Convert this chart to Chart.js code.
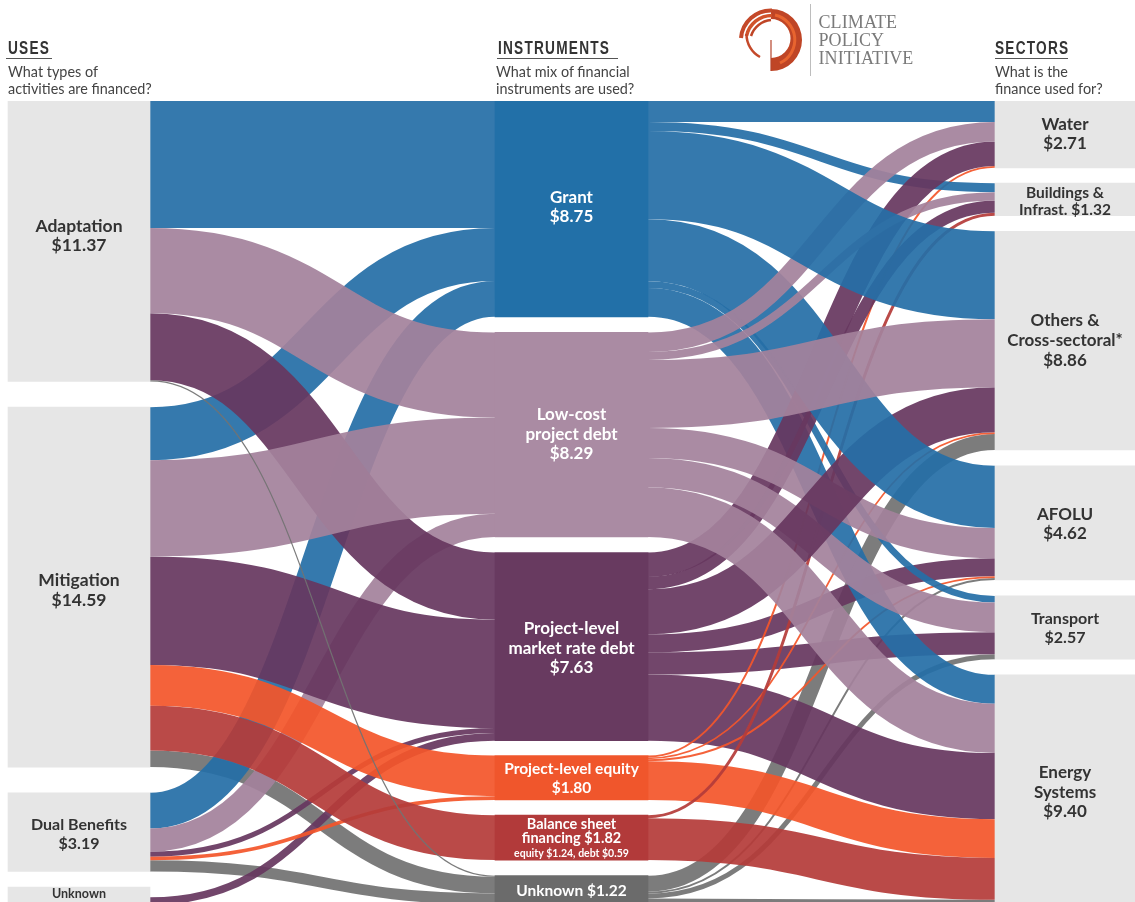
<!DOCTYPE html>
<html><head><meta charset="utf-8">
<script src="https://cdn.jsdelivr.net/npm/chart.js@4/dist/chart.umd.min.js"></script>
<style>
html,body{margin:0;padding:0;background:#fff;width:1135px;height:902px;overflow:hidden}
#wrap{position:relative;width:1135px;height:902px;overflow:hidden}
canvas{position:absolute;left:0;top:0}
.h{position:absolute;font:bold 18px "Liberation Sans",sans-serif;letter-spacing:1.6px;color:#333;line-height:20px;white-space:nowrap;transform:scaleX(.76);transform-origin:left center}
.u{position:absolute;height:1px;background:#555;top:58px}
.s{position:absolute;font:400 14.4px/16.5px Lato,"Open Sans",sans-serif;color:#444;white-space:nowrap;top:64px}
.l{position:absolute;left:818.5px;font:18px/18px "Liberation Serif",serif;color:#7a7a7a;white-space:nowrap;letter-spacing:.1px}
svg{position:absolute;left:0;top:0}
</style></head><body>
<div id="wrap">
<canvas id="c" width="1135" height="902"></canvas>
<svg width="1135" height="100" viewBox="0 0 1135 100">
 <path d="M771 9A31 31 0 0 1 771 71L771 58A19.5 19.5 0 0 0 771 19Z" fill="#bf4526"/>
 <path d="M775 15A25.5 25.5 0 0 1 780 63" fill="none" stroke="#e8642f" stroke-width="3"/>
 <path d="M772 10.5A30 30 0 0 0 741 38" fill="none" stroke="#c4492a" stroke-width="4"/>
 <path d="M772 15.5A26 26 0 0 0 746.5 36" fill="none" stroke="#d1532b" stroke-width="3.5"/>
 <path d="M771 20A23 23 0 0 0 751 36" fill="none" stroke="#bf4526" stroke-width="2.5"/>
 <path d="M746.5 34A26 26 0 0 0 760 57" fill="none" stroke="#c4492a" stroke-width="2.5"/>
 <path d="M771 40V71" stroke="#b5432a" stroke-width="1.2"/>
 <path d="M810.5 4V76" stroke="#bdbdbd" stroke-width="1"/>
</svg>
<div class="l" style="top:13px">CLIMATE</div>
<div class="l" style="top:31px">POLICY</div>
<div class="l" style="top:49px">INITIATIVE</div>
<div class="h" style="left:8px;top:38px">USES</div><div class="u" style="left:6px;width:46px"></div>
<div class="h" style="left:498px;top:38px">INSTRUMENTS</div><div class="u" style="left:497px;width:121px"></div>
<div class="h" style="left:995px;top:38px">SECTORS</div><div class="u" style="left:995px;width:73px"></div>
<div class="s" style="left:8px">What types of<br>activities are financed?</div>
<div class="s" style="left:496px">What mix of financial<br>instruments are used?</div>
<div class="s" style="left:995px">What is the<br>finance used for?</div>
</div>
<script>
// ---------- data (US$) ----------
const uses = ['Adaptation', 'Mitigation', 'Dual Benefits', 'Unknown'];
const instruments = ['Grant', 'Low-cost project debt', 'Project-level market rate debt', 'Project-level equity', 'Balance sheet financing', 'Unknown'];
const sectors = ['Water', 'Buildings & Infrast.', 'Others & Cross-sectoral*', 'AFOLU', 'Transport', 'Energy Systems'];
const useValues = [11.37, 14.59, 3.19, 0.8];
const instrumentValues = [8.75, 8.29, 7.63, 1.80, 1.82, 1.22];
const sectorValues = [2.71, 1.32, 8.86, 4.62, 2.57, 9.40];
// flows: use -> [Grant, Low-cost, Market debt, Equity, Balance sheet, Unknown]
const adaptationFlows = [5.15, 3.45, 2.72, 0, 0, 0.05];
const mitigationFlows = [2.15, 3.90, 4.40, 1.65, 1.82, 0.67];
const dualFlows = [1.45, 0.94, 0.20, 0.15, 0, 0.45];
const unknownUseFlows = [0, 0, 0.31, 0, 0, 0.05];
// flows: instrument -> [Water, Buildings, Others, AFOLU, Transport, Energy]
const grantFlows = [0.85, 0.37, 3.57, 2.52, 0.27, 1.17];
const lowCostFlows = [0.79, 0.33, 2.75, 1.22, 1.20, 2.00];
const marketDebtFlows = [0.99, 0.50, 1.83, 0.73, 0.90, 2.68];
const equityFlows = [0.08, 0, 0.07, 0.08, 0, 1.57];
const balanceFlows = [0, 0.12, 0, 0, 0, 1.70];
const unknownInstFlows = [0, 0, 0.65, 0.08, 0.20, 0.29];
// ---------- layout & style ----------
const useGaps = [0, 1.04, 1.04, 0.63];
const instrumentGaps = [0, 0.63, 0.63, 0.60, 0.62, 0.63];
const sectorGaps = [0, 0.62, 0.63, 0.65, 0.65, 0.63];
const unknownUseLead = 0.42;
const colX = [[8, 150], [495, 648], [995, 1135]];
const ribbonRGB = ['38,111,167', '164,130,156', '103,56,96', '243,86,43', '181,60,58', '114,114,114'];
const ribbonAlpha = 0.93;
const nodeFill = ['#2270a8', '#aa8ba3', '#683a60', '#f0562c', '#b23a3a', '#6b6b6b'];
const grey = '#e6e6e6';
const leftOrder = [[1,5],[2,5],[3,5],[2,0],[1,0],[0,0],[2,1],[2,2],[3,2],[0,2],[1,2],[0,1],[1,1],[2,3],[1,3],[1,4],[0,5]];
const rightOrder = [[5,2],[5,3],[5,4],[5,5],[2,3],[2,4],[2,5],[3,0],[3,2],[3,3],[3,5],[4,1],[4,5],
  [0,0],[0,1],[0,4],[0,5],[2,0],[2,1],[1,3],[1,4],[2,2],[1,5],[0,3],[1,0],[1,1],[0,2],[1,2]];
const useMatrix = [adaptationFlows, mitigationFlows, dualFlows, unknownUseFlows];
const instMatrix = [grantFlows, lowCostFlows, marketDebtFlows, equityFlows, balanceFlows, unknownInstFlows];

function tops(vals, gaps) { let y = 0; return vals.map((v, i) => { y += gaps[i]; const t = y; y += v; return t; }); }
const useTop = tops(useValues, useGaps), instTop = tops(instrumentValues, instrumentGaps), secTop = tops(sectorValues, sectorGaps);

function buildLinks(matrix, srcTop, dstTop, leadFor) {
  const out = [];
  matrix.forEach((row, s) => {
    let sy = srcTop[s] + (leadFor ? leadFor(s) : 0);
    row.forEach((v, d) => {
      if (v > 0) { out.push({ s, d, v, y0: sy, y1: 0 }); }
      sy += v;
    });
  });
  dstTop.forEach((t, d) => {
    let y = t;
    out.filter(l => l.d === d).sort((a, b) => a.s - b.s).forEach(l => { l.y1 = y; y += l.v; });
  });
  return out;
}
const leftLinks = buildLinks(useMatrix, useTop, instTop, s => s === 3 ? unknownUseLead : 0);
const rightLinks = buildLinks(instMatrix, instTop, secTop);
const pick = (links, order) => order.map(([s, d]) => links.find(l => l.s === s && l.d === d)).filter(Boolean);
const leftDraw = pick(leftLinks, leftOrder).map(l => ({ ...l, rgb: ribbonRGB[l.d] }));
const rightDraw = pick(rightLinks, rightOrder).map(l => ({ ...l, rgb: ribbonRGB[l.s] }));

const labelFont = 'Lato, "Open Sans", sans-serif';
const labels = [
 {c:0,y:useTop[0],h:useValues[0],lines:['Adaptation','$11.37'],size:17.5,lh:19,dy:-5,col:'#333'},
 {c:0,y:useTop[1],h:useValues[1],lines:['Mitigation','$14.59'],size:17.5,lh:20,dy:3.5,col:'#333'},
 {c:0,y:useTop[2],h:useValues[2],lines:['Dual Benefits','$3.19'],size:16,lh:19,dy:2,col:'#333'},
 {c:0,y:useTop[3],h:useValues[3],lines:['Unknown'],size:12.5,lh:14,dy:-2.5,col:'#333'},
 {c:1,y:instTop[0],h:instrumentValues[0],lines:['Grant','$8.75'],size:17,lh:19,dy:-1.7,col:'#fff'},
 {c:1,y:instTop[1],h:instrumentValues[1],lines:['Low-cost','project debt','$8.29'],size:17,lh:19.5,dy:-0.2,col:'#fff'},
 {c:1,y:instTop[2],h:instrumentValues[2],lines:['Project-level','market rate debt','$7.63'],size:17,lh:19.5,dy:1.8,col:'#fff'},
 {c:1,y:instTop[3],h:instrumentValues[3],lines:['Project-level equity','$1.80'],size:15.5,lh:19,dy:0.8,col:'#fff'},
 {c:1,y:instTop[4],h:instrumentValues[4],lines:['Balance sheet','financing $1.82'],size:14.5,lh:14.5,dy:-6.5,col:'#fff'},
 {c:1,y:instTop[4],h:instrumentValues[4],lines:['equity $1.24, debt $0.59'],size:10.5,lh:12,dy:16,col:'#fff'},
 {c:1,y:instTop[5],h:instrumentValues[5],lines:['Unknown $1.22'],size:15.5,lh:18,dy:0.3,col:'#fff'},
 {c:2,y:secTop[0],h:sectorValues[0],lines:['Water','$2.71'],size:17,lh:19,dy:-0.2,col:'#333'},
 {c:2,y:secTop[1],h:sectorValues[1],lines:['Buildings &','Infrast. $1.32'],size:15.5,lh:17,dy:1.8,col:'#333'},
 {c:2,y:secTop[2],h:sectorValues[2],lines:['Others &','Cross-sectoral*','$8.86'],size:17,lh:20,dy:0.3,col:'#333'},
 {c:2,y:secTop[3],h:sectorValues[3],lines:['AFOLU','$4.62'],size:17,lh:19,dy:1.3,col:'#333'},
 {c:2,y:secTop[4],h:sectorValues[4],lines:['Transport','$2.57'],size:16,lh:19,dy:0.8,col:'#333'},
 {c:2,y:secTop[5],h:sectorValues[5],lines:['Energy','Systems','$9.40'],size:17,lh:19.5,dy:1.3,col:'#333'}
];

const ribbonPlugin = {
  id: 'ribbons',
  beforeDatasetsDraw(chart) {
    const { ctx, scales: { x, y }, chartArea: a } = chart;
    ctx.save();
    ctx.beginPath(); ctx.rect(a.left, a.top, a.right - a.left, a.bottom - a.top); ctx.clip();
    ctx.lineCap = 'butt';
    const draw = (l, xa, xb) => {
      const x0 = x.getPixelForValue(xa), x1 = x.getPixelForValue(xb), m = (x0 + x1) / 2;
      const c0 = y.getPixelForValue(l.y0 + l.v / 2), c1 = y.getPixelForValue(l.y1 + l.v / 2);
      ctx.beginPath(); ctx.moveTo(x0, c0);
      ctx.bezierCurveTo(m, c0, m, c1, x1, c1);
      ctx.lineWidth = y.getPixelForValue(l.v) - y.getPixelForValue(0);
      ctx.strokeStyle = 'rgba(' + l.rgb + ',' + ribbonAlpha + ')';
      ctx.stroke();
    };
    leftDraw.forEach(l => draw(l, colX[0][1], colX[1][0]));
    rightDraw.forEach(l => draw(l, colX[1][1], colX[2][0]));
    ctx.restore();
  },
  afterDatasetsDraw(chart) {
    const { ctx, scales: { x, y } } = chart;
    ctx.save();
    ctx.textAlign = 'center'; ctx.textBaseline = 'middle';
    labels.forEach(L => {
      const cx = x.getPixelForValue((colX[L.c][0] + colX[L.c][1]) / 2);
      const mid = y.getPixelForValue(L.y + L.h / 2) + L.dy;
      ctx.font = '700 ' + L.size + 'px ' + labelFont;
      ctx.fillStyle = L.col;
      L.lines.forEach((t, i) => ctx.fillText(t, cx, mid + (i - (L.lines.length - 1) / 2) * L.lh));
    });
    ctx.restore();
  }
};
const bar = (col, names, vals, t, fills) => ({
  label: names.join(', '),
  data: vals.map((v, i) => ({ x: (colX[col][0] + colX[col][1]) / 2, y: [t[i], t[i] + v] })),
  backgroundColor: fills, borderWidth: 0, grouped: false,
  barThickness: colX[col][1] - colX[col][0]
});
new Chart(document.getElementById('c'), {
  type: 'bar',
  data: { datasets: [
    bar(0, uses, useValues, useTop, grey),
    bar(1, instruments, instrumentValues, instTop, nodeFill),
    bar(2, sectors, sectorValues, secTop, grey)
  ] },
  options: {
    responsive: false, animation: false, devicePixelRatio: 1,
    layout: { padding: { top: 101, left: 0, right: 0, bottom: 0 } },
    plugins: { legend: { display: false }, tooltip: { enabled: false } },
    scales: {
      x: { type: 'linear', display: false, min: 0, max: 1135, offset: false },
      y: { type: 'linear', display: false, reverse: true, min: 0, max: 801 / 24.67 }
    }
  },
  plugins: [ribbonPlugin]
});
</script>
</body></html>
